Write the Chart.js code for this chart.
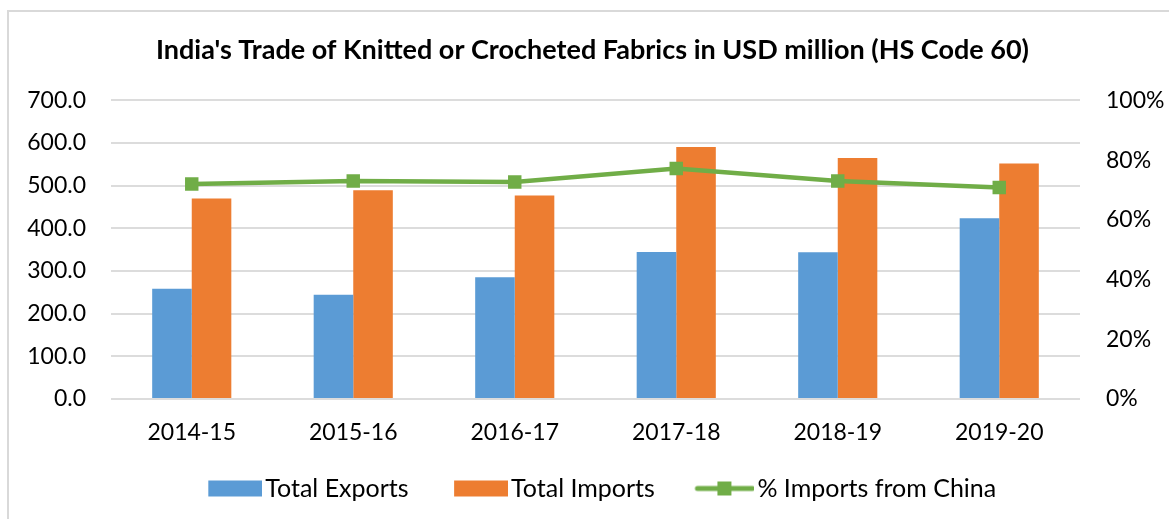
<!DOCTYPE html>
<html>
<head>
<meta charset="utf-8">
<title>India's Trade of Knitted or Crocheted Fabrics</title>
<script src="https://cdn.jsdelivr.net/npm/chart.js@4/dist/chart.umd.min.js"></script>
<style>
  html, body { margin: 0; padding: 0; background: #fff; overflow: hidden; }
  .frame { position: absolute; left: 7px; top: 10px; width: 1300px; height: 600px; border: 2px solid #d9d9d9; }
  #chart { position: absolute; left: 0; top: 0; }
</style>
</head>
<body>
<div class="frame"></div>
<canvas id="chart" width="1169" height="519"></canvas>
<script>
const years = ['2014-15', '2015-16', '2016-17', '2017-18', '2018-19', '2019-20'];
const totalExports = [258.4, 244.3, 285.7, 344.4, 344.2, 424.0];
const totalImports = [469.8, 489.3, 476.8, 591.0, 565.2, 552.0];
const pctFromChina = [72.0, 73.0, 72.7, 77.2, 73.0, 70.8];
const leftTicks = [0, 100, 200, 300, 400, 500, 600, 700];
const rightTicks = [0, 20, 40, 60, 80, 100];

const BLUE = '#5b9bd5';
const ORANGE = '#ed7d31';
const GREEN = '#70ad47';
const GRID = '#dcdcdc';
const FONT = 'Lato, "Open Sans", sans-serif';

// legend swatches: transparent on the left, mark pushed to the right edge
// so it sits close to its label text
const SW_W = 95, SW_H = 18;
function barSwatch(color) {
  const c = document.createElement('canvas');
  c.width = SW_W; c.height = SW_H;
  const g = c.getContext('2d');
  g.fillStyle = color;
  g.fillRect(SW_W - 54, 1, 54, 16);
  return c;
}
function lineSwatch(color) {
  const c = document.createElement('canvas');
  c.width = SW_W; c.height = SW_H;
  const g = c.getContext('2d');
  const x0 = SW_W - 60;
  g.strokeStyle = color;
  g.lineWidth = 5;
  g.lineCap = 'round';
  g.beginPath(); g.moveTo(x0 + 3, 9); g.lineTo(SW_W - 2, 9); g.stroke();
  g.fillStyle = color;
  g.fillRect(x0 + 23, 2, 14, 14);
  return c;
}
const swatches = [barSwatch(BLUE), barSwatch(ORANGE), lineSwatch(GREEN)];

// nudge the legend row after layout
const legendNudge = {
  id: 'legendNudge',
  afterLayout(chart) {
    const lg = chart.legend;
    if (!lg) return;
    lg.left -= 6; lg.right -= 6;
  }
};

new Chart(document.getElementById('chart'), {
  data: {
    labels: years,
    datasets: [
      { type: 'bar', label: 'Total Exports', data: totalExports, backgroundColor: BLUE,
        yAxisID: 'y', order: 1, barPercentage: 1, categoryPercentage: 0.49 },
      { type: 'bar', label: 'Total Imports', data: totalImports, backgroundColor: ORANGE,
        yAxisID: 'y', order: 1, barPercentage: 1, categoryPercentage: 0.49 },
      { type: 'line', label: '% Imports from China', data: pctFromChina, yAxisID: 'y1', order: 0,
        borderColor: GREEN, backgroundColor: GREEN, borderWidth: 4.5, tension: 0,
        pointStyle: 'rect', pointRadius: 9.5, pointBorderWidth: 0, pointBackgroundColor: GREEN }
    ]
  },
  plugins: [legendNudge],
  options: {
    responsive: false,
    animation: false,
    layout: { padding: { left: 16, right: 0, top: 0, bottom: 8 } },
    plugins: {
      tooltip: { enabled: false },
      title: {
        display: true,
        text: "India's Trade of Knitted or Crocheted Fabrics in USD million (HS Code 60)",
        color: '#000',
        font: { family: FONT, size: 27, weight: 'bold' },
        padding: { top: 34, bottom: 34 }
      },
      legend: {
        position: 'bottom',
        labels: {
          color: '#000',
          font: { family: FONT, size: 25 },
          usePointStyle: true,
          pointStyleWidth: 76,
          boxHeight: 18,
          padding: 14,
          sort: (a, b) => a.datasetIndex - b.datasetIndex,
          generateLabels(chart) {
            const items = Chart.defaults.plugins.legend.labels.generateLabels(chart);
            items.forEach(it => { it.pointStyle = swatches[it.datasetIndex]; });
            return items;
          }
        }
      }
    },
    scales: {
      x: {
        grid: { display: false, drawTicks: false },
        border: { display: false },
        ticks: { color: '#000', font: { family: FONT, size: 23 }, padding: 20, maxRotation: 0 },
        afterFit(scale) { scale.height = 63; }
      },
      y: {
        position: 'left',
        min: 0, max: 700,
        afterBuildTicks(scale) { scale.ticks = leftTicks.map(v => ({ value: v })); },
        grid: { color: GRID, lineWidth: 2, drawTicks: false },
        border: { display: false },
        ticks: { color: '#000', font: { family: FONT, size: 23 }, padding: 25,
          callback: v => Number(v).toFixed(1) },
        afterFit(scale) { scale.width = 95; }
      },
      y1: {
        position: 'right',
        min: 0, max: 100,
        afterBuildTicks(scale) { scale.ticks = rightTicks.map(v => ({ value: v })); },
        grid: { display: false, drawTicks: false },
        border: { display: false },
        ticks: { color: '#000', font: { family: FONT, size: 23 }, padding: 26,
          callback: v => v + '%' },
        afterFit(scale) { scale.width = 89; }
      }
    }
  }
});
</script>
</body>
</html>
